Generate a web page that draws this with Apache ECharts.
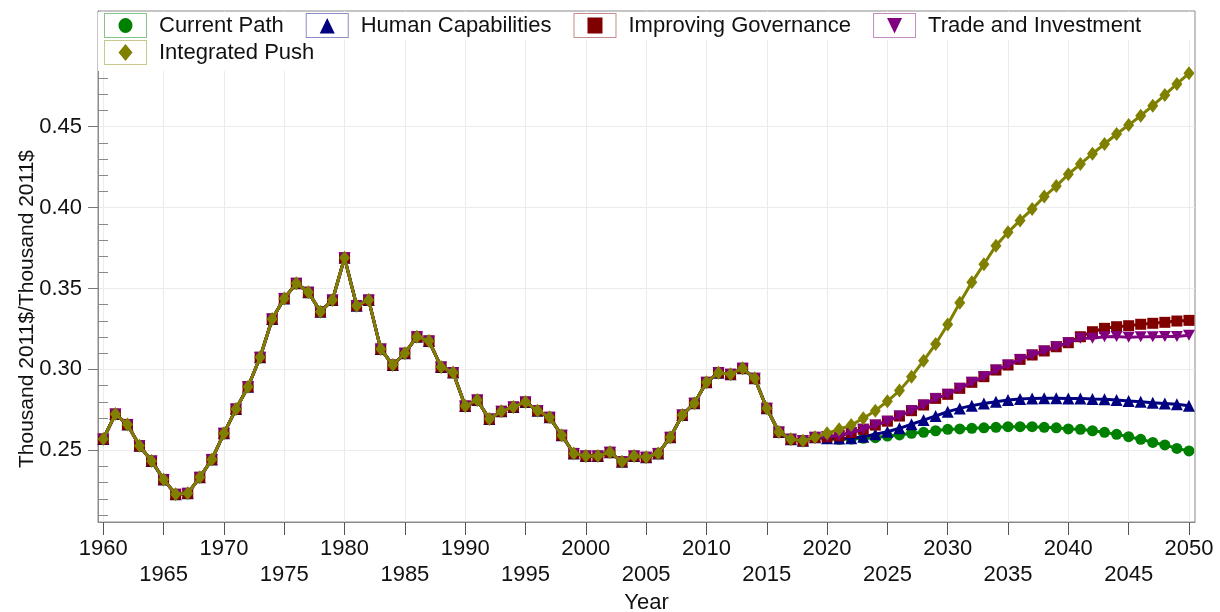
<!DOCTYPE html>
<html>
<head>
<meta charset="utf-8">
<script src="https://cdn.jsdelivr.net/npm/echarts@6/dist/echarts.min.js"></script>
<style>html,body{margin:0;padding:0;background:#fff}#c{width:1220px;height:612px}</style>
</head>
<body>
<div id="c"></div>
<script>
// ---- data ----
const firstYear = 1960;
const lastYear = 2050;
const seriesNames = ['Current Path', 'Human Capabilities', 'Improving Governance', 'Trade and Investment', 'Integrated Push'];
// shared history 1960-2019
const history = [
  0.257, 0.2724, 0.266, 0.2528, 0.2434, 0.232, 0.2228, 0.2234, 0.2333, 0.2444,
  0.2605, 0.2755, 0.2893, 0.3075, 0.3312, 0.3439, 0.3532, 0.3477, 0.3357, 0.3429,
  0.369, 0.3394, 0.3429, 0.3126, 0.3027, 0.310, 0.3202, 0.3176, 0.3015, 0.2981,
  0.2774, 0.2811, 0.2693, 0.2741, 0.2768, 0.2799, 0.2745, 0.2704, 0.2593, 0.2481,
  0.2465, 0.2465, 0.2488, 0.243, 0.2465, 0.2457, 0.2481, 0.258, 0.2718, 0.2791,
  0.292, 0.298, 0.297, 0.3007, 0.2945, 0.276, 0.2613, 0.2569, 0.2559, 0.258
];
// scenarios 2020-2050
const currentPath = [
  0.2572, 0.2568, 0.257, 0.2574, 0.2578, 0.2588, 0.2595, 0.2605, 0.2611, 0.2621,
  0.263, 0.2632, 0.2636, 0.2639, 0.2642, 0.2646, 0.2646, 0.2646, 0.2642, 0.2639,
  0.2632, 0.263, 0.2621, 0.2611, 0.2599, 0.2584, 0.2568, 0.2549, 0.2533, 0.2512, 0.2496
];
const humanCapabilities = [
  0.2574, 0.2573, 0.2575, 0.2584, 0.2599, 0.2615, 0.2636, 0.2661, 0.2687, 0.2712,
  0.2739, 0.2759, 0.2776, 0.279, 0.28, 0.2811, 0.2817, 0.2821, 0.2822, 0.2822,
  0.2821, 0.2821, 0.2817, 0.2815, 0.2811, 0.2805, 0.28, 0.2794, 0.279, 0.2784, 0.2776
];
const improvingGovernance = [
  0.2584, 0.259, 0.261, 0.263, 0.2656, 0.268, 0.2712, 0.2745, 0.278, 0.2821,
  0.2846, 0.2883, 0.292, 0.2955, 0.2996, 0.3027, 0.3062, 0.3089, 0.3114, 0.314,
  0.3165, 0.3202, 0.3233, 0.3254, 0.3264, 0.327, 0.3279, 0.3285, 0.3291, 0.3299, 0.3303
];
const tradeInvestment = [
  0.2584, 0.259, 0.261, 0.263, 0.2656, 0.268, 0.2712, 0.2745, 0.278, 0.2821,
  0.2846, 0.2883, 0.292, 0.2955, 0.2996, 0.3027, 0.3062, 0.3089, 0.3114, 0.314,
  0.3165, 0.3192, 0.3192, 0.3202, 0.3204, 0.3198, 0.3202, 0.3202, 0.3204, 0.3204, 0.3211
];
const integratedPush = [
  0.2605, 0.263, 0.2656, 0.2698, 0.2745, 0.2803, 0.2869, 0.2955, 0.3054, 0.3157,
  0.3278, 0.3412, 0.3538, 0.365, 0.3765, 0.3847, 0.3921, 0.3991, 0.4068, 0.4133,
  0.4206, 0.4269, 0.4333, 0.4393, 0.4455, 0.451, 0.4568, 0.463, 0.4696, 0.4764, 0.483
];
const xTickYears = [1960,1965,1970,1975,1980,1985,1990,1995,2000,2005,2010,2015,2020,2025,2030,2035,2040,2045,2050];
const yTickLabels = [0.25, 0.30, 0.35, 0.40, 0.45];
const yMinorTicks = [0.21,0.22,0.23,0.24,0.26,0.27,0.28,0.29,0.31,0.32,0.33,0.34,0.36,0.37,0.38,0.39,0.41,0.42,0.43,0.44,0.46,0.47,0.48,0.49,0.51];

// ---- build ----
const years = [];
for (let y = firstYear; y <= lastYear; y++) years.push(y);
const scenarioValues = [currentPath, humanCapabilities, improvingGovernance, tradeInvestment, integratedPush];
const colors = ['#008000', '#000080', '#800000', '#800080', '#808000'];
const frameColors = ['#86c386', '#8c8cc8', '#c48c8c', '#c48cc4', '#c8c88c'];
const symbols = ['circle', 'triangle', 'rect', 'path://M0,0 L12,0 L6,11 Z', 'diamond'];
const symbolSizes = [11, 12, 11, [12, 11], [11, 14]];
const bounds = ' M0 0 L0 0 Z M50 25 L50 25 Z';
const legendShapes = [
  'path://M14.5 12.5 A7 7.5 0 1 0 28.5 12.5 A7 7.5 0 1 0 14.5 12.5 Z' + bounds,
  'path://M21.5 5 L29 20.5 L14 20.5 Z' + bounds,
  'path://M14 4.5 L29 4.5 L29 20.5 L14 20.5 Z' + bounds,
  'path://M14 5 L29 5 L21.5 20.5 Z' + bounds,
  'path://M21.5 4 L28.5 12.5 L21.5 21 L14.5 12.5 Z' + bounds
];
const framePath = 'path://M0 0 L43 0 L43 25 L0 25 Z M1 1 L1 24 L42 24 L42 1 Z' + bounds;

const series = seriesNames.map((name, k) => {
  const vals = history.concat(scenarioValues[k]);
  return {
    name: name,
    type: 'line',
    data: years.map((y, i) => [y, vals[i]]),
    symbol: symbols[k],
    symbolSize: symbolSizes[k],
    lineStyle: { color: colors[k], width: 3 },
    itemStyle: { color: colors[k], borderWidth: 0 },
    emphasis: { disabled: true },
    z: 2 + k
  };
});

const FONT = '"Liberation Sans", Arial, sans-serif';
function makeLegend(names, idxs, top, padding, frame) {
  return {
    left: 98, top: top, orient: 'horizontal', padding: padding,
    itemWidth: 50, itemHeight: 25, itemGap: 22,
    backgroundColor: frame ? '#ffffff' : 'transparent',
    selectedMode: false,
    textStyle: { fontFamily: FONT, fontSize: 22, color: frame ? '#111' : 'rgba(0,0,0,0)' },
    data: idxs.map(i => ({
      name: names[i],
      icon: frame ? framePath : legendShapes[i],
      itemStyle: { color: frame ? frameColors[i] : colors[i], borderWidth: 0 }
    })),
    z: frame ? 10 : 11
  };
}

const chart = echarts.init(document.getElementById('c'), null, { renderer: 'canvas' });
chart.setOption({
  animation: false,
  backgroundColor: '#fff',
  grid: {
    left: 98, right: 25, top: 11, bottom: 90, containLabel: false, outerBoundsMode: 'none',
    show: true, borderColor: '#8a8a8a', borderWidth: 1, backgroundColor: 'transparent'
  },
  legend: [
    makeLegend(seriesNames, [0,1,2,3], 12, [1, 49, 2, 6], true),
    makeLegend(seriesNames, [0,1,2,3], 12, [1, 49, 2, 6], false),
    makeLegend(seriesNames, [4], 39, [1, 20, 6, 6], true),
    makeLegend(seriesNames, [4], 39, [1, 20, 6, 6], false)
  ],
  xAxis: {
    type: 'value', min: 1959.56, max: 2050.5,
    name: 'Year', nameLocation: 'middle', nameGap: 70, nameMoveOverlap: false,
    nameTextStyle: { fontFamily: FONT, fontSize: 22, color: '#111' },
    axisLine: { show: true, lineStyle: { color: '#8a8a8a', width: 1 } },
    axisTick: { show: true, inside: false, length: 13, customValues: xTickYears, lineStyle: { color: '#555' } },
    axisLabel: {
      customValues: xTickYears, margin: 14, fontFamily: FONT, fontSize: 22, color: '#111', lineHeight: 26,
      formatter: v => ((Math.round(v) / 5) % 2 === 1 ? '\n' + Math.round(v) : String(Math.round(v)))
    },
    splitLine: { show: true, lineStyle: { color: '#ebebeb', width: 1 } }
  },
  yAxis: [
    {
      type: 'value', min: 0.2057, max: 0.5215, position: 'left',
      name: 'Thousand 2011$/Thousand 2011$', nameLocation: 'middle', nameGap: 60, nameMoveOverlap: false,
      nameTextStyle: { fontFamily: FONT, fontSize: 21, color: '#111', padding: [0, 85, 0, 0] },
      axisLine: { show: true, lineStyle: { color: '#8a8a8a', width: 1 } },
      axisTick: { show: true, inside: false, length: 10, customValues: yTickLabels, lineStyle: { color: '#777' } },
      axisLabel: { customValues: yTickLabels, margin: 16, fontFamily: FONT, fontSize: 22, color: '#111', formatter: v => v.toFixed(2) },
      splitLine: { show: true, lineStyle: { color: '#ebebeb', width: 1 } }
    },
    {
      type: 'value', min: 0.2057, max: 0.5215, position: 'left', offset: 0,
      axisLine: { show: false },
      axisTick: { show: true, inside: true, length: 10, customValues: yMinorTicks, lineStyle: { color: '#8a8a8a' } },
      axisLabel: { show: false },
      splitLine: { show: false }
    }
  ],
  series: series
});
</script>
</body>
</html>
